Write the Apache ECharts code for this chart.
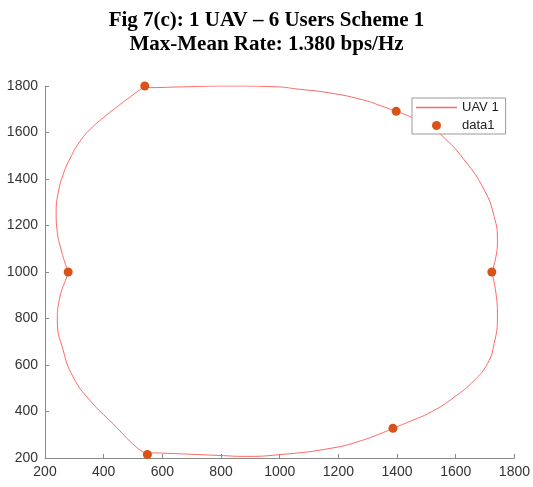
<!DOCTYPE html>
<html>
<head>
<meta charset="utf-8">
<script src="https://cdn.jsdelivr.net/npm/echarts@6/dist/echarts.min.js"></script>
<style>html,body{margin:0;padding:0;background:#fff}#c{width:533px;height:487px}</style>
</head>
<body>
<div id="c"></div>
<script>
// User positions (data1)
const users = [[540,1800],[1397,1691],[1723,1000],[1386,328],[549,215],[279,1000]];
// UAV 1 trajectory, segment by segment between users
const segTop = [[540,1800],[560,1793],[657,1796],[827,1800],[997,1796],[1053,1788],[1166,1771],[1279,1742],[1347,1714],[1397,1691]];
const segRightUpper = [[1397,1691],[1443,1669],[1500,1635],[1550,1590],[1629,1482],[1697,1353],[1731,1238],[1742,1137],[1737,1066],[1723,1000]];
const segRightLower = [[1723,1000],[1737,908],[1742,807],[1731,692],[1708,606],[1663,534],[1595,462],[1516,398],[1437,354],[1386,328]];
const segBottom = [[1386,328],[1279,275],[1166,240],[997,214],[884,207],[793,211],[601,221],[562,222],[549,215]];
const segLeftLower = [[549,215],[511,247],[432,347],[353,448],[296,548],[262,663],[242,793],[251,893],[274,979],[279,1000]];
const segLeftUpper = [[279,1000],[268,1040],[254,1100],[242,1170],[238,1260],[245,1340],[262,1420],[290,1500],[318,1560],[355,1615],[400,1665],[450,1715],[500,1762],[540,1800]];
const segments = [segTop, segRightUpper, segRightLower, segBottom, segLeftLower, segLeftUpper];
const xTicks = [200,1800,200];
const yTicks = [200,1800,200];
const titleLines = ['Fig 7(c): 1 UAV \u2013 6 Users Scheme 1', 'Max-Mean Rate: 1.380 bps/Hz'];

const lineColor = '#ff6666';
const dotColor = '#d95319';
const axisCommon = {
  type: 'value',
  axisLine: {show: true, lineStyle: {color: '#8a8a8a', width: 1}},
  axisTick: {show: true, inside: true, length: 4, lineStyle: {color: '#8a8a8a'}},
  splitLine: {show: false},
  axisLabel: {color: '#333', fontSize: 14, fontFamily: 'Liberation Sans', margin: 7, formatter: v => String(v)}
};
const series = segments.map(s => ({
  name: 'UAV 1', type: 'line', data: s, smooth: 0.5, symbol: 'none',
  lineStyle: {color: lineColor, width: 1}, itemStyle: {color: lineColor}, z: 2
}));
series.push({
  name: 'data1', type: 'scatter', data: users, symbol: 'circle', symbolSize: 9,
  itemStyle: {color: dotColor, opacity: 1}, z: 3
});
const chart = echarts.init(document.getElementById('c'), null, {renderer: 'canvas'});
chart.setOption({
  animation: false,
  title: {
    text: titleLines.join('\n'), left: 'center', top: 4,
    textStyle: {fontFamily: 'Liberation Serif', fontWeight: 'bold', fontSize: 21, color: '#000', lineHeight: 24}
  },
  grid: {left: 45, right: 16, top: 86, bottom: 29, containLabel: false},
  xAxis: Object.assign({}, axisCommon, {min: xTicks[0], max: xTicks[1], interval: xTicks[2]}),
  yAxis: Object.assign({}, axisCommon, {min: yTicks[0], max: yTicks[1], interval: yTicks[2]}),
  legend: {
    data: [
      {name: 'UAV 1', icon: 'path://M0,0H41V1.5H0Z', itemStyle: {color: lineColor}},
      {name: 'data1', icon: 'circle'}
    ],
    orient: 'vertical', left: 412, top: 98, symbolKeepAspect: true,
    itemWidth: 41, itemHeight: 9, itemGap: 5, padding: [3, 7, 2, 4],
    borderColor: '#999', borderWidth: 1, backgroundColor: '#fff', selectedMode: false,
    textStyle: {fontSize: 13, color: '#222', fontFamily: 'Liberation Sans'}
  },
  series: series
});
</script>
</body>
</html>
